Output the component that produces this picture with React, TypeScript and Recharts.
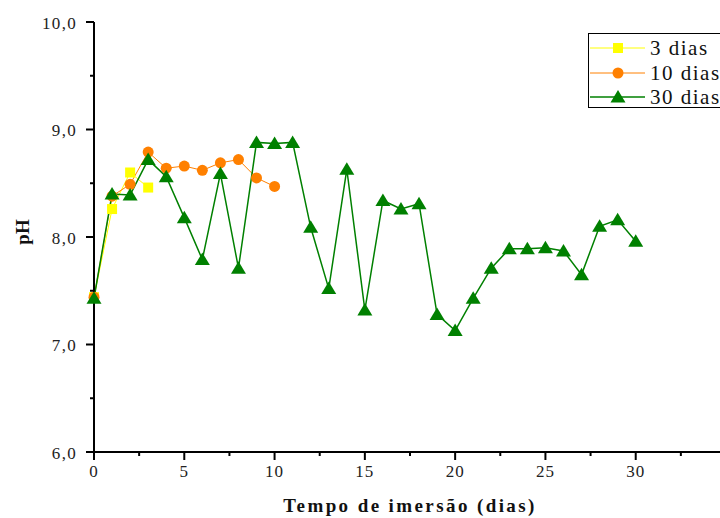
import React from 'react';
import { LineChart, Line, XAxis, YAxis, Label } from 'recharts';

const days3 = [0, 1, 2, 3];
const ph3 = [7.44, 8.26, 8.6, 8.46];
const days10 = [0, 1, 2, 3, 4, 5, 6, 7, 8, 9, 10];
const ph10 = [7.44, 8.38, 8.49, 8.79, 8.64, 8.66, 8.62, 8.69, 8.72, 8.55, 8.47];
const days30 = [0, 1, 2, 3, 4, 5, 6, 7, 8, 9, 10, 11, 12, 13, 14, 15, 16, 17, 18, 19, 20, 21, 22, 23, 24, 25, 26, 27, 28, 29, 30];
const ph30 = [7.43, 8.4, 8.39, 8.72, 8.56, 8.18, 7.79, 8.59, 7.71, 8.88, 8.87, 8.88, 8.09, 7.52, 8.63, 7.32, 8.34, 8.26, 8.31, 7.28, 7.13, 7.43, 7.71, 7.89, 7.89, 7.9, 7.87, 7.65, 8.1, 8.16, 7.96];

const xTicks = [0, 2.5, 5, 7.5, 10, 12.5, 15, 17.5, 20, 22.5, 25, 27.5, 30, 32.5, 35];
const xLabels = [0, 5, 10, 15, 20, 25, 30];
const yTicks = [6, 6.5, 7, 7.5, 8, 8.5, 9, 9.5, 10];

const seriesNames = ['3 dias', '10 dias', '30 dias'];
const seriesColors = ['#FFFF00', '#FF8000', '#008000'];

const toRows = (days: number[], vals: number[]) => days.map((d, i) => ({ day: d, ph: vals[i] }));
const data3 = toRows(days3, ph3);
const data10 = toRows(days10, ph10);
const data30 = toRows(days30, ph30);

const FONT = '"Liberation Serif", serif';

const YTick = (props: any) => {
  const { x, y, payload } = props;
  const v = payload.value as number;
  const major = Number.isInteger(v);
  return (
    <g>
      <line x1={x} x2={x - (major ? 8 : 4)} y1={y} y2={y} stroke="#000" strokeWidth={2} />
      {major && (
        <text x={x - 17} y={y + 1} textAnchor="end" dominantBaseline="central" style={{ fontFamily: FONT, letterSpacing: 1.3 }} fontSize={17} fill="#222">
          {v.toFixed(1).replace('.', ',')}
        </text>
      )}
    </g>
  );
};

const XTick = (props: any) => {
  const { x, y, payload } = props;
  const v = payload.value as number;
  const major = Number.isInteger(v / 5);
  return (
    <g>
      <line x1={x} x2={x} y1={y} y2={y + (major ? 8 : 4)} stroke="#000" strokeWidth={2} />
      {xLabels.includes(v) && (
        <text x={x} y={y + 25} textAnchor="middle" style={{ fontFamily: FONT, letterSpacing: 1 }} fontSize={17} fill="#222">
          {v}
        </text>
      )}
    </g>
  );
};

const Square = (props: any) => {
  const { cx, cy } = props;
  if (cx == null || cy == null) return null;
  return <rect x={cx - 5} y={cy - 5} width={10} height={10} fill="#FFFF00" />;
};
const Circle = (props: any) => {
  const { cx, cy } = props;
  if (cx == null || cy == null) return null;
  return <circle cx={cx} cy={cy} r={5.5} fill="#FF8000" />;
};
const Triangle = (props: any) => {
  const { cx, cy } = props;
  if (cx == null || cy == null) return null;
  return <polygon points={`${cx},${cy - 7} ${cx + 7.5},${cy + 5.5} ${cx - 7.5},${cy + 5.5}`} fill="#008000" />;
};

const markerFor = (i: number) => {
  if (i === 0) return <rect x={23} y={5} width={10} height={10} fill="#FFFF00" />;
  if (i === 1) return <circle cx={28} cy={10} r={5.5} fill="#FF8000" />;
  return <polygon points="28,3 35.5,15.5 20.5,15.5" fill="#008000" />;
};

const LegendBox = () => (
  <div
    style={{
      position: 'absolute',
      left: 588,
      top: 33,
      border: '1px solid #000',
      width: 160,
      height: 75,
      boxSizing: 'border-box',
      paddingTop: 2,
      background: '#fff',
    }}
  >
    {seriesNames.map((name, i) => (
      <div key={name} style={{ display: 'flex', alignItems: 'center', height: 24.5 }}>
        <svg width={57} height={20} style={{ marginLeft: 1, flex: 'none' }}>
          <line x1={0} x2={55} y1={10} y2={10} stroke={seriesColors[i]} strokeWidth={i === 2 ? 1.5 : 1} />
          {markerFor(i)}
        </svg>
        <span style={{ fontFamily: FONT, fontSize: 21, letterSpacing: 1.5, color: '#111', marginLeft: 3, whiteSpace: 'nowrap', lineHeight: '24px' }}>{name}</span>
      </div>
    ))}
  </div>
);

export default function App() {
  return (
    <div style={{ position: 'fixed', left: 0, top: 0, width: 720, height: 518, overflow: 'hidden', background: '#fff' }}>
      <LineChart width={736} height={518} margin={{ top: 22, right: 10, left: 0, bottom: 0 }}>
        <XAxis
          dataKey="day"
          type="number"
          domain={[0, 35]}
          ticks={xTicks}
          interval={0}
          tick={<XTick />}
          tickLine={false}
          tickSize={0}
          tickMargin={0}
          height={66}
          axisLine={{ stroke: '#000', strokeWidth: 2 }}
          allowDuplicatedCategory={false}
        >
          <Label
            content={(p: any) => {
              const vb = p.viewBox;
              return (
                <text
                  x={vb.x + vb.width / 2}
                  y={512}
                  textAnchor="middle"
                  style={{ fontFamily: FONT, letterSpacing: 2.4 }}
                  fontWeight="bold"
                  fontSize={19}
                  fill="#111"
                >
                  Tempo de imersão (dias)
                </text>
              );
            }}
          />
        </XAxis>
        <YAxis
          type="number"
          domain={[6, 10]}
          ticks={yTicks}
          interval={0}
          tick={<YTick />}
          tickLine={false}
          tickSize={0}
          tickMargin={0}
          width={94}
          axisLine={{ stroke: '#000', strokeWidth: 2 }}
        >
          <Label
            content={(p: any) => {
              const vb = p.viewBox;
              const cy = vb.y + vb.height / 2 - 5;
              return (
                <text
                  x={29}
                  y={cy}
                  transform={`rotate(-90 29 ${cy})`}
                  textAnchor="middle"
                  style={{ fontFamily: FONT }}
                  fontWeight="bold"
                  fontSize={19}
                  fill="#111"
                >
                  pH
                </text>
              );
            }}
          />
        </YAxis>
        <Line
          data={data3}
          dataKey="ph"
          name={seriesNames[0]}
          stroke={seriesColors[0]}
          strokeWidth={1}
          dot={<Square />}
          activeDot={false}
          isAnimationActive={false}
        />
        <Line
          data={data10}
          dataKey="ph"
          name={seriesNames[1]}
          stroke={seriesColors[1]}
          strokeWidth={1}
          dot={<Circle />}
          activeDot={false}
          isAnimationActive={false}
        />
        <Line
          data={data30}
          dataKey="ph"
          name={seriesNames[2]}
          stroke={seriesColors[2]}
          strokeWidth={1.5}
          dot={<Triangle />}
          activeDot={false}
          isAnimationActive={false}
        />
      </LineChart>
      <LegendBox />
    </div>
  );
}
